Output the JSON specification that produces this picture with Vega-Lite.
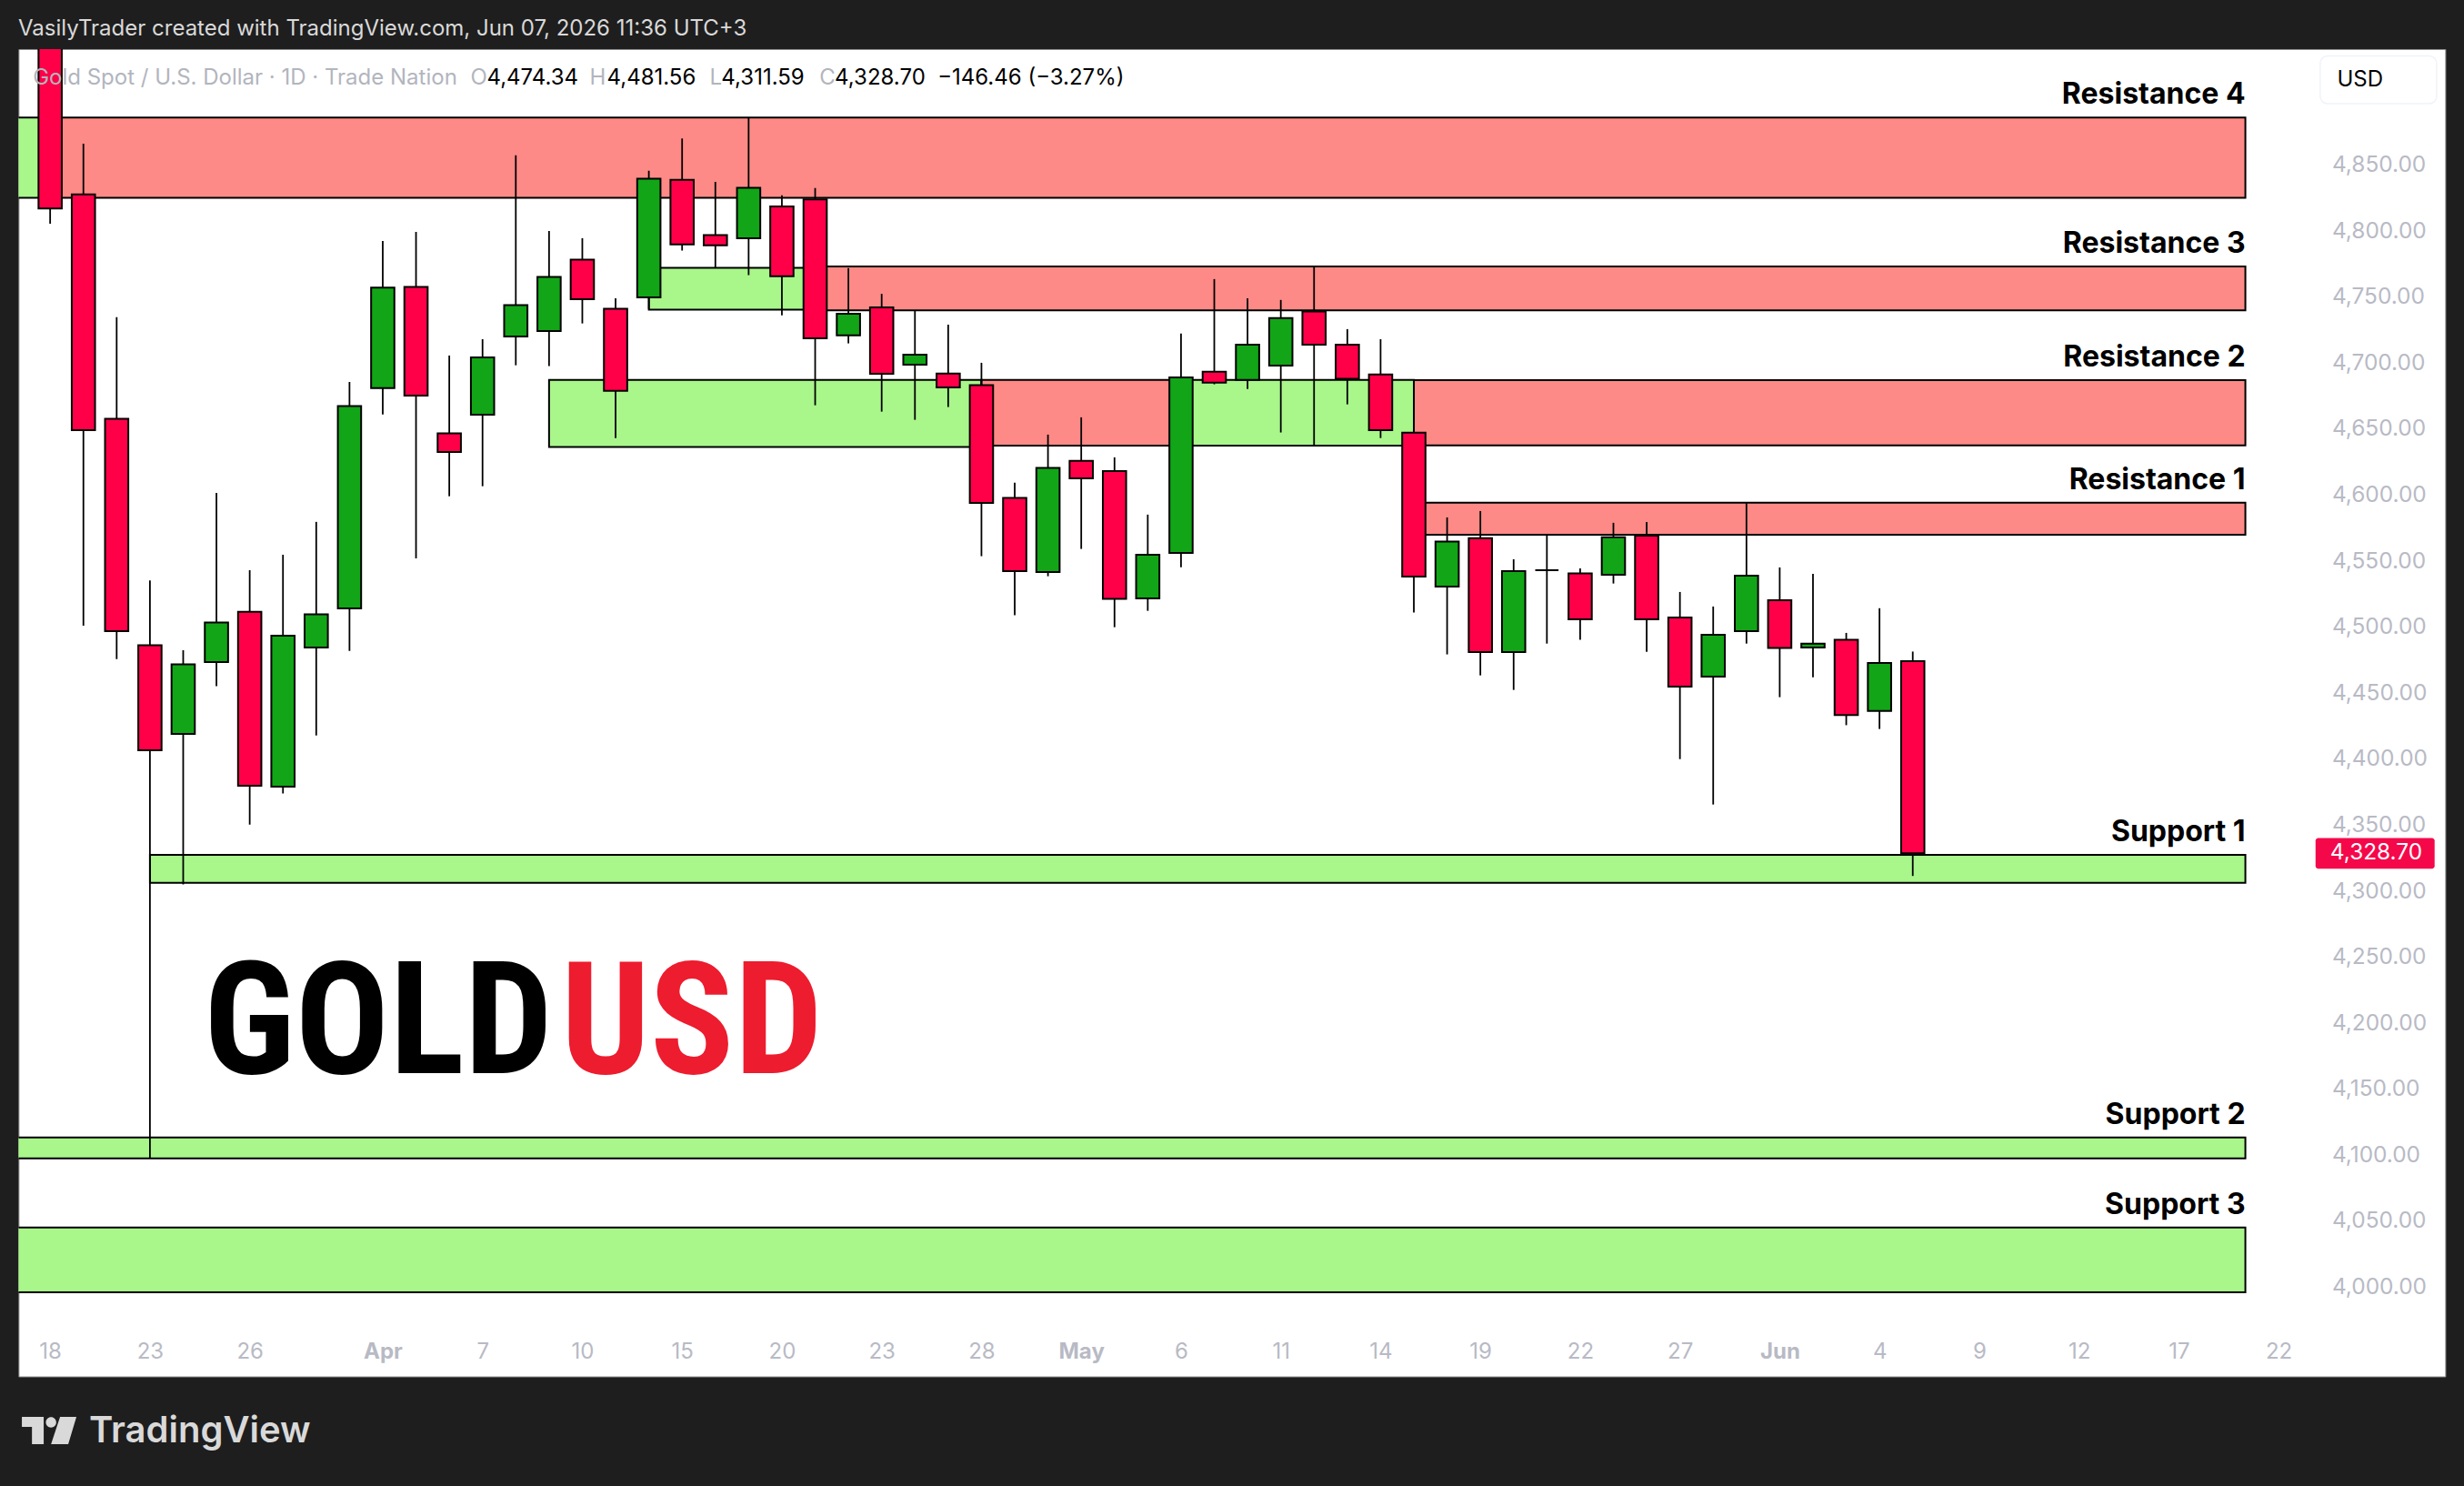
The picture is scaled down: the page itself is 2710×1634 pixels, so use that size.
{
  "$schema": "https://vega.github.io/schema/vega-lite/v6.json",
  "autosize": "none",
  "width": 2669,
  "height": 1459.5,
  "padding": {"left": 20.4, "top": 54, "right": 20.6, "bottom": 120.5},
  "background": "#1e1e1e",
  "view": {"fill": "#ffffff", "stroke": "#8c8c8c", "strokeWidth": 1},
  "config": {"text": {"font": "Inter"}},
  "datasets": {
    "zones": [
      {"kind": "res", "i": 0, "i2": 66, "p": 4886.0, "p2": 4825.2},
      {"kind": "sup", "i": -1.2, "i2": 0, "p": 4886.0, "p2": 4825.2},
      {"kind": "res", "i": 23, "i2": 66, "p": 4773.3, "p2": 4740.1},
      {"kind": "sup", "i": 18, "i2": 23, "p": 4772.2, "p2": 4740.5},
      {"kind": "sup", "i": 15, "i2": 28, "p": 4687.4, "p2": 4636.6},
      {"kind": "res", "i": 28, "i2": 34, "p": 4687.4, "p2": 4637.6},
      {"kind": "sup", "i": 34, "i2": 41, "p": 4687.4, "p2": 4637.6},
      {"kind": "res", "i": 41, "i2": 66, "p": 4687.2, "p2": 4637.8},
      {"kind": "res", "i": 41, "i2": 66, "p": 4594.4, "p2": 4570.1},
      {"kind": "sup", "i": 3, "i2": 66, "p": 4327.6, "p2": 4306.4},
      {"kind": "sup", "i": -1.2, "i2": 66, "p": 4113.5, "p2": 4097.6},
      {"kind": "sup", "i": -1.2, "i2": 66, "p": 4045.3, "p2": 3996.2}
    ],
    "candles": [
      {"i": 0, "o": 5000, "h": 5010, "l": 4805.7, "c": 4817.2},
      {"i": 1, "o": 4827.8, "h": 4866.3, "l": 4501.2, "c": 4649.3},
      {"i": 2, "o": 4657.8, "h": 4734.8, "l": 4475.9, "c": 4497.1},
      {"i": 3, "o": 4486.3, "h": 4535.4, "l": 4098.2, "c": 4406.8},
      {"i": 4, "o": 4419.2, "h": 4482.6, "l": 4305.1, "c": 4471.8},
      {"i": 5, "o": 4473.6, "h": 4601.8, "l": 4455.3, "c": 4503.5},
      {"i": 6, "o": 4511.7, "h": 4543.2, "l": 4350.5, "c": 4379.9},
      {"i": 7, "o": 4379.3, "h": 4554.9, "l": 4374.0, "c": 4493.6},
      {"i": 8, "o": 4484.7, "h": 4579.8, "l": 4418.0, "c": 4509.7},
      {"i": 9, "o": 4514.3, "h": 4685.8, "l": 4482.1, "c": 4667.5},
      {"i": 10, "o": 4681.2, "h": 4792.6, "l": 4661.2, "c": 4757.2},
      {"i": 11, "o": 4757.8, "h": 4799.5, "l": 4552.2, "c": 4675.5},
      {"i": 12, "o": 4646.9, "h": 4705.8, "l": 4599.2, "c": 4632.8},
      {"i": 13, "o": 4661.0, "h": 4718.2, "l": 4606.8, "c": 4704.4},
      {"i": 14, "o": 4720.3, "h": 4857.4, "l": 4698.4, "c": 4743.9},
      {"i": 15, "o": 4724.4, "h": 4800.2, "l": 4697.8, "c": 4765.3},
      {"i": 16, "o": 4778.4, "h": 4794.7, "l": 4730.1, "c": 4748.5},
      {"i": 17, "o": 4741.2, "h": 4749.2, "l": 4643.3, "c": 4679.0},
      {"i": 18, "o": 4749.9, "h": 4845.7, "l": 4741.0, "c": 4839.7},
      {"i": 19, "o": 4838.9, "h": 4870.3, "l": 4785.3, "c": 4789.9},
      {"i": 20, "o": 4797.0, "h": 4837.4, "l": 4772.2, "c": 4789.2},
      {"i": 21, "o": 4794.7, "h": 4886.0, "l": 4766.7, "c": 4832.8},
      {"i": 22, "o": 4818.8, "h": 4827.1, "l": 4736.3, "c": 4765.8},
      {"i": 23, "o": 4824.1, "h": 4832.6, "l": 4668.1, "c": 4718.9},
      {"i": 24, "o": 4721.0, "h": 4772.0, "l": 4715.0, "c": 4737.5},
      {"i": 25, "o": 4742.3, "h": 4752.5, "l": 4663.3, "c": 4692.0},
      {"i": 26, "o": 4698.9, "h": 4739.6, "l": 4657.1, "c": 4706.5},
      {"i": 27, "o": 4692.2, "h": 4729.2, "l": 4666.8, "c": 4681.7},
      {"i": 28, "o": 4683.3, "h": 4700.3, "l": 4553.8, "c": 4594.2},
      {"i": 29, "o": 4597.9, "h": 4609.4, "l": 4509.0, "c": 4542.5},
      {"i": 30, "o": 4541.8, "h": 4645.9, "l": 4538.6, "c": 4620.6},
      {"i": 31, "o": 4626.1, "h": 4659.0, "l": 4559.3, "c": 4612.8},
      {"i": 32, "o": 4618.3, "h": 4628.7, "l": 4500.0, "c": 4521.4},
      {"i": 33, "o": 4521.9, "h": 4585.3, "l": 4512.4, "c": 4554.9},
      {"i": 34, "o": 4556.3, "h": 4722.4, "l": 4545.5, "c": 4689.3},
      {"i": 35, "o": 4693.6, "h": 4763.7, "l": 4684.0, "c": 4685.2},
      {"i": 36, "o": 4687.4, "h": 4749.2, "l": 4680.5, "c": 4714.1},
      {"i": 37, "o": 4698.2, "h": 4747.9, "l": 4647.5, "c": 4734.1},
      {"i": 38, "o": 4739.1, "h": 4773.3, "l": 4638.1, "c": 4714.1},
      {"i": 39, "o": 4714.1, "h": 4725.8, "l": 4668.8, "c": 4688.1},
      {"i": 40, "o": 4691.4, "h": 4718.2, "l": 4643.3, "c": 4649.3},
      {"i": 41, "o": 4647.3, "h": 4687.2, "l": 4511.1, "c": 4538.4},
      {"i": 42, "o": 4530.8, "h": 4583.2, "l": 4479.4, "c": 4564.8},
      {"i": 43, "o": 4567.5, "h": 4588.0, "l": 4463.5, "c": 4481.2},
      {"i": 44, "o": 4481.2, "h": 4551.5, "l": 4452.5, "c": 4542.5},
      {"i": 45, "o": 4543.2, "h": 4569.4, "l": 4487.6, "c": 4543.2},
      {"i": 46, "o": 4540.7, "h": 4544.6, "l": 4490.4, "c": 4506.0},
      {"i": 47, "o": 4539.8, "h": 4579.1, "l": 4533.1, "c": 4568.2},
      {"i": 48, "o": 4569.4, "h": 4579.7, "l": 4481.4, "c": 4506.0},
      {"i": 49, "o": 4507.4, "h": 4526.7, "l": 4400.1, "c": 4455.0},
      {"i": 50, "o": 4462.6, "h": 4515.7, "l": 4365.7, "c": 4494.3},
      {"i": 51, "o": 4497.1, "h": 4594.0, "l": 4487.6, "c": 4539.1},
      {"i": 52, "o": 4520.5, "h": 4545.3, "l": 4447.0, "c": 4484.2},
      {"i": 53, "o": 4484.7, "h": 4540.5, "l": 4462.1, "c": 4487.6},
      {"i": 54, "o": 4490.4, "h": 4495.7, "l": 4425.8, "c": 4433.4},
      {"i": 55, "o": 4436.6, "h": 4514.4, "l": 4422.9, "c": 4473.0},
      {"i": 56, "o": 4474.34, "h": 4481.56, "l": 4311.59, "c": 4328.7}
    ],
    "levels": [
      {"label": "Resistance 4", "i": 66, "p": 4886.0},
      {"label": "Resistance 3", "i": 66, "p": 4773.3},
      {"label": "Resistance 2", "i": 66, "p": 4687.4},
      {"label": "Resistance 1", "i": 66, "p": 4594.4},
      {"label": "Support 1", "i": 66, "p": 4327.6},
      {"label": "Support 2", "i": 66, "p": 4113.5},
      {"label": "Support 3", "i": 66, "p": 4045.3}
    ],
    "legendGrey": [
      {"label": "Gold Spot / U.S. Dollar · 1D · Trade Nation", "i": -0.52, "p": 4916.2},
      {"label": "O", "i": 12.64, "p": 4916.2},
      {"label": "H", "i": 16.22, "p": 4916.2},
      {"label": "L", "i": 19.83, "p": 4916.2},
      {"label": "C", "i": 23.13, "p": 4916.2}
    ],
    "legendBlack": [
      {"label": "4,474.34", "i": 13.13, "p": 4916.2},
      {"label": "4,481.56", "i": 16.74, "p": 4916.2},
      {"label": "4,311.59", "i": 20.18, "p": 4916.2},
      {"label": "4,328.70", "i": 23.59, "p": 4916.2},
      {"label": "−146.46 (−3.27%)", "i": 26.68, "p": 4916.2},
      {"label": "USD", "i": 68.76, "p": 4914.8}
    ]
  },
  "layer": [
    {
      "data": {"name": "zones"},
      "mark": {"type": "rect", "stroke": "#000000", "strokeWidth": 2, "clip": true},
      "encoding": {
        "x": {
          "field": "i",
          "type": "quantitative",
          "scale": {"domain": [-0.95, 72.01], "nice": false, "zero": false, "padding": 0},
          "axis": {
            "title": null,
            "orient": "bottom",
            "values": [0, 3, 6, 10, 13, 16, 19, 22, 25, 28, 31, 34, 37, 40, 43, 46, 49, 52, 55, 58, 61, 64, 67],
            "labelExpr": "{'0':'18','3':'23','6':'26','10':'Apr','13':'7','16':'10','19':'15','22':'20','25':'23','28':'28','31':'May','34':'6','37':'11','40':'14','43':'19','46':'22','49':'27','52':'Jun','55':'4','58':'9','61':'12','64':'17','67':'22'}[datum.value]",
            "domain": false,
            "ticks": false,
            "grid": false,
            "labelFont": "Inter",
            "labelFontSize": 24,
            "labelColor": "#b8bac5",
            "labelBaseline": "middle",
            "labelPadding": -27,
            "labelOverlap": false,
            "labelFlush": false,
            "labelBound": false,
            "labelFontWeight": {"condition": {"test": "datum.value==10||datum.value==31||datum.value==52", "value": 700}, "value": 400}
          }
        },
        "x2": {"field": "i2"},
        "y": {
          "field": "p",
          "type": "quantitative",
          "scale": {"domain": [3932.5, 4937.9], "nice": false, "zero": false},
          "axis": {
            "title": null,
            "orient": "right",
            "values": [4000, 4050, 4100, 4150, 4200, 4250, 4300, 4350, 4400, 4450, 4500, 4550, 4600, 4650, 4700, 4750, 4800, 4850],
            "format": ",.2f",
            "domain": false,
            "ticks": false,
            "grid": false,
            "labelFont": "Inter",
            "labelFontSize": 24.4,
            "labelColor": "#b8bac5",
            "labelAlign": "left",
            "labelBaseline": "middle",
            "labelPadding": -125,
            "labelOverlap": false,
            "labelFlush": false,
            "labelBound": false
          }
        },
        "y2": {"field": "p2"},
        "fill": {
          "field": "kind",
          "type": "nominal",
          "scale": {"domain": ["res", "sup"], "range": ["#fd8a86", "#a9f68b"]},
          "legend": null
        }
      }
    },
    {
      "data": {"name": "candles"},
      "mark": {"type": "rule", "stroke": "#000000", "strokeWidth": 1.8, "clip": true},
      "encoding": {
        "x": {"field": "i", "type": "quantitative"},
        "y": {"field": "h", "type": "quantitative"},
        "y2": {"field": "l"}
      }
    },
    {
      "data": {"name": "candles"},
      "mark": {"type": "bar", "orient": "vertical", "size": 25.6, "stroke": "#000000", "strokeWidth": 2, "clip": true},
      "encoding": {
        "x": {"field": "i", "type": "quantitative"},
        "y": {"field": "o", "type": "quantitative"},
        "y2": {"field": "c"},
        "fill": {"condition": {"test": "datum.c>=datum.o", "value": "#12a517"}, "value": "#ff0048"}
      }
    },
    {
      "data": {"values": [{"i": 68.11, "i2": 71.69, "p": 4340.3, "p2": 4317.1}]},
      "mark": {"type": "rect", "fill": "#f5084a", "cornerRadius": 3},
      "encoding": {
        "x": {"field": "i", "type": "quantitative"},
        "x2": {"field": "i2"},
        "y": {"field": "p", "type": "quantitative"},
        "y2": {"field": "p2"}
      }
    },
    {
      "data": {"values": [{"i": 68.25, "i2": 71.75, "p": 4932.7, "p2": 4896.6}]},
      "mark": {"type": "rect", "fill": "#ffffff", "stroke": "#f0f3fa", "strokeWidth": 1.5, "cornerRadius": 8},
      "encoding": {
        "x": {"field": "i", "type": "quantitative"},
        "x2": {"field": "i2"},
        "y": {"field": "p", "type": "quantitative"},
        "y2": {"field": "p2"}
      }
    },
    {
      "data": {"values": [{"label": "4,328.70", "i": 68.55, "p": 4328.7}]},
      "mark": {"type": "text", "align": "left", "baseline": "middle", "fontSize": 24.4, "fill": "#ffffff"},
      "encoding": {
        "x": {"field": "i", "type": "quantitative"},
        "y": {"field": "p", "type": "quantitative"},
        "text": {"field": "label"}
      }
    },
    {
      "data": {"name": "levels"},
      "mark": {"type": "text", "align": "right", "baseline": "alphabetic", "dy": -15, "fontSize": 32, "fontWeight": 700, "fill": "#000000"},
      "encoding": {
        "x": {"field": "i", "type": "quantitative"},
        "y": {"field": "p", "type": "quantitative"},
        "text": {"field": "label"}
      }
    },
    {
      "data": {"name": "legendGrey"},
      "mark": {"type": "text", "align": "left", "baseline": "middle", "fontSize": 24, "fill": "#b2b5be"},
      "encoding": {
        "x": {"field": "i", "type": "quantitative"},
        "y": {"field": "p", "type": "quantitative"},
        "text": {"field": "label"}
      }
    },
    {
      "data": {"name": "legendBlack"},
      "mark": {"type": "text", "align": "left", "baseline": "middle", "fontSize": 24, "fill": "#000000"},
      "encoding": {
        "x": {"field": "i", "type": "quantitative"},
        "y": {"field": "p", "type": "quantitative"},
        "text": {"field": "label"}
      }
    },
    {
      "data": {"values": [{"label": "GOLD", "i": 15.11, "p": 4198.3}]},
      "mark": {"type": "text", "align": "right", "baseline": "middle", "font": "Roboto Condensed, DejaVu Sans Condensed, Roboto", "fontWeight": 700, "fontSize": 172, "fill": "#000000"},
      "encoding": {
        "x": {"field": "i", "type": "quantitative"},
        "y": {"field": "p", "type": "quantitative"},
        "text": {"field": "label"}
      }
    },
    {
      "data": {"values": [{"label": "USD", "i": 15.35, "p": 4198.3}]},
      "mark": {"type": "text", "align": "left", "baseline": "middle", "font": "Roboto Condensed, DejaVu Sans Condensed, Roboto", "fontWeight": 700, "fontSize": 172, "fill": "#ed1c2e"},
      "encoding": {
        "x": {"field": "i", "type": "quantitative"},
        "y": {"field": "p", "type": "quantitative"},
        "text": {"field": "label"}
      }
    },
    {
      "data": {"values": [{"label": "VasilyTrader created with TradingView.com, Jun 07, 2026 11:36 UTC+3", "i": -0.96, "p": 4952.8}]},
      "mark": {"type": "text", "align": "left", "baseline": "middle", "fontSize": 24, "fill": "#d9d9d9"},
      "encoding": {
        "x": {"field": "i", "type": "quantitative"},
        "y": {"field": "p", "type": "quantitative"},
        "text": {"field": "label"}
      }
    },
    {
      "data": {"values": [{"label": "TradingView", "i": 1.17, "p": 3890.5}]},
      "mark": {"type": "text", "align": "left", "baseline": "middle", "fontSize": 40, "fontWeight": 600, "fill": "#d9d9d9"},
      "encoding": {
        "x": {"field": "i", "type": "quantitative"},
        "y": {"field": "p", "type": "quantitative"},
        "text": {"field": "label"}
      }
    },
    {
      "data": {"values": [{"i": -0.03, "p": 3891.5}]},
      "mark": {
        "type": "point",
        "filled": true,
        "size": 3600,
        "opacity": 1,
        "fill": "#d9d9d9",
        "shape": "M-1 -.5L-.2 -.5L-.2 .5L-.63 .5L-.63 -.13L-1 -.13ZM-.12 -.3a.19 .19 0 1 0 .38 0a.19 .19 0 1 0 -.38 0ZM.4 -.5L1 -.5L.7 .5L.07 .5Z"
      },
      "encoding": {
        "x": {"field": "i", "type": "quantitative"},
        "y": {"field": "p", "type": "quantitative"}
      }
    }
  ]
}
